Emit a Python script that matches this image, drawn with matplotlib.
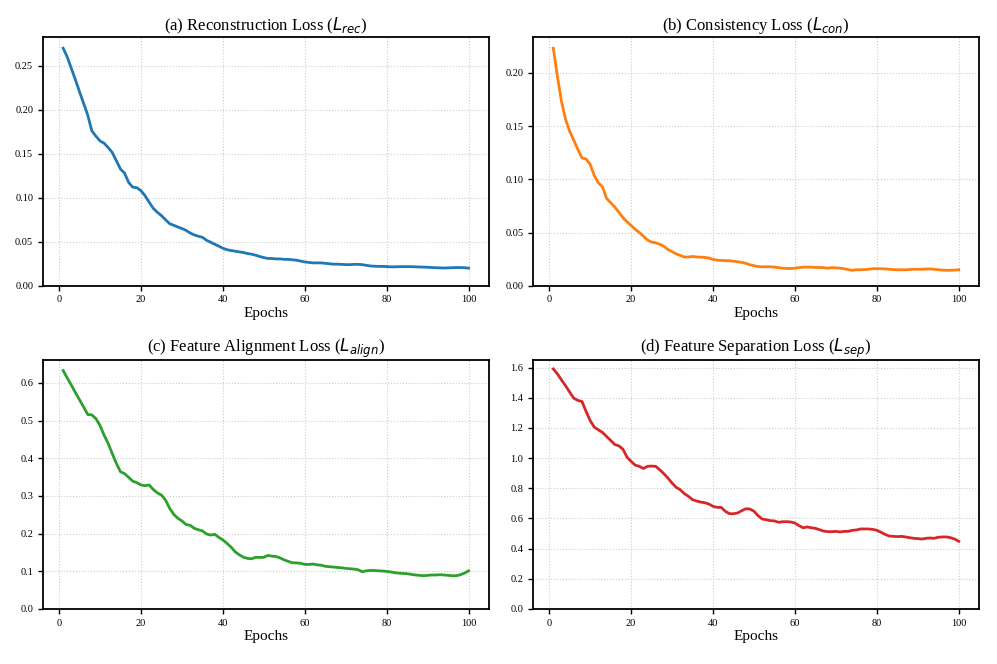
import numpy as np
import matplotlib
matplotlib.use("Agg")
import matplotlib.pyplot as plt

plt.rcParams['font.family'] = ['Liberation Serif', 'DejaVu Serif']
plt.rcParams['mathtext.fontset'] = 'dejavusans'

epochs = np.arange(1, 101)

rec_loss = [
    0.270, 0.260, 0.247, 0.234, 0.2205, 0.2073, 0.194, 0.176, 0.170, 0.1646,
    0.162, 0.157, 0.1514, 0.142, 0.1326, 0.128, 0.1174, 0.112, 0.1114, 0.108,
    0.1023, 0.095, 0.088, 0.0835, 0.0797, 0.075, 0.0706, 0.0687, 0.0668, 0.065,
    0.063, 0.060, 0.0578, 0.0563, 0.0551, 0.0517, 0.0495, 0.0472, 0.045, 0.0427,
    0.041, 0.040, 0.0393, 0.0385, 0.0378, 0.0366, 0.0359, 0.0347, 0.0332, 0.032,
    0.031, 0.031, 0.0305, 0.0305, 0.030, 0.030, 0.0295, 0.029, 0.028, 0.027,
    0.0265, 0.026, 0.026, 0.026, 0.0255, 0.025, 0.0245, 0.0245, 0.0243, 0.024,
    0.024, 0.0243, 0.0243, 0.024, 0.0232, 0.0225, 0.0222, 0.022, 0.022, 0.0218,
    0.0215, 0.0215, 0.0217, 0.0217, 0.0217, 0.0217, 0.0215, 0.0213, 0.0212, 0.021,
    0.0207, 0.0205, 0.0203, 0.0202, 0.0203, 0.0205, 0.0207, 0.0207, 0.0205, 0.020,
]

con_loss = [
    0.223, 0.1966, 0.173, 0.156, 0.145, 0.1366, 0.128, 0.120, 0.119, 0.114,
    0.1034, 0.0966, 0.093, 0.082, 0.078, 0.074, 0.069, 0.064, 0.060, 0.0566,
    0.053, 0.050, 0.0466, 0.043, 0.041, 0.0403, 0.039, 0.037, 0.034, 0.032,
    0.030, 0.0284, 0.027, 0.027, 0.0275, 0.027, 0.0269, 0.0266, 0.026, 0.0247,
    0.024, 0.0238, 0.0235, 0.0235, 0.023, 0.0225, 0.022, 0.021, 0.0197, 0.0188,
    0.018, 0.0178, 0.0178, 0.0178, 0.0175, 0.017, 0.0165, 0.0162, 0.0162, 0.0165,
    0.017, 0.0175, 0.0175, 0.0175, 0.0172, 0.0172, 0.017, 0.0165, 0.017, 0.0168,
    0.0165, 0.016, 0.0152, 0.0145, 0.015, 0.015, 0.0152, 0.0155, 0.016, 0.016,
    0.016, 0.0158, 0.0155, 0.0152, 0.015, 0.015, 0.015, 0.0152, 0.0155, 0.0155,
    0.0155, 0.0157, 0.0158, 0.0155, 0.015, 0.0147, 0.0145, 0.0145, 0.0147, 0.015,
]

align_loss = [
    0.6326, 0.613, 0.594, 0.574, 0.555, 0.536, 0.516, 0.515, 0.505, 0.487,
    0.461, 0.439, 0.412, 0.386, 0.364, 0.359, 0.349, 0.339, 0.335, 0.329,
    0.327, 0.329, 0.317, 0.308, 0.302, 0.289, 0.267, 0.251, 0.2405, 0.2335,
    0.224, 0.222, 0.214, 0.210, 0.207, 0.199, 0.196, 0.198, 0.190, 0.183,
    0.174, 0.164, 0.1515, 0.1436, 0.1374, 0.134, 0.133, 0.137, 0.1366, 0.137,
    0.142, 0.140, 0.139, 0.135, 0.130, 0.126, 0.1225, 0.122, 0.121, 0.118,
    0.118, 0.119, 0.117, 0.116, 0.113, 0.112, 0.111, 0.110, 0.109, 0.1075,
    0.1066, 0.1057, 0.104, 0.0987, 0.101, 0.102, 0.102, 0.101, 0.1005, 0.0996,
    0.098, 0.096, 0.095, 0.094, 0.0934, 0.0916, 0.090, 0.089, 0.088, 0.089,
    0.090, 0.090, 0.0907, 0.090, 0.089, 0.088, 0.088, 0.0907, 0.095, 0.101,
]

sep_loss = [
    1.591, 1.558, 1.518, 1.479, 1.437, 1.397, 1.382, 1.375, 1.309, 1.249,
    1.205, 1.187, 1.170, 1.143, 1.117, 1.090, 1.081, 1.059, 1.006, 0.978,
    0.953, 0.945, 0.931, 0.945, 0.947, 0.945, 0.922, 0.896, 0.867, 0.834,
    0.806, 0.790, 0.764, 0.746, 0.724, 0.715, 0.708, 0.704, 0.695, 0.680,
    0.673, 0.673, 0.647, 0.631, 0.631, 0.636, 0.651, 0.664, 0.662, 0.647,
    0.618, 0.596, 0.591, 0.585, 0.583, 0.574, 0.578, 0.578, 0.576, 0.569,
    0.552, 0.538, 0.543, 0.538, 0.534, 0.525, 0.516, 0.512, 0.512, 0.514,
    0.510, 0.514, 0.514, 0.521, 0.523, 0.530, 0.530, 0.530, 0.527, 0.521,
    0.508, 0.494, 0.483, 0.481, 0.479, 0.481, 0.477, 0.472, 0.468, 0.466,
    0.463, 0.468, 0.470, 0.468, 0.475, 0.477, 0.477, 0.472, 0.463, 0.448,
]

titles = [
    r'(a) Reconstruction Loss ($L_{rec}$)',
    r'(b) Consistency Loss ($L_{con}$)',
    r'(c) Feature Alignment Loss ($L_{align}$)',
    r'(d) Feature Separation Loss ($L_{sep}$)',
]
series = [rec_loss, con_loss, align_loss, sep_loss]
colors = ['#1f77b4', '#ff7f0e', '#2ca02c', '#d62728']

fig, axes = plt.subplots(2, 2, figsize=(9.97, 6.64), dpi=100)
fig.subplots_adjust(left=0.043, right=0.982, top=0.944, bottom=0.083,
                    wspace=0.099, hspace=0.30)

for ax, title, vals, c in zip(axes.flat, titles, series, colors):
    ax.plot(epochs, vals, color=c, linewidth=2)
    ax.set_title(title, fontsize=12, pad=5)
    ax.set_xlabel('Epochs', fontsize=11, labelpad=2)
    ax.set_ylim(bottom=0)
    ax.grid(True, linestyle=':', color='#cccccc', linewidth=0.8)
    ax.tick_params(labelsize=7.5, length=3.5, width=1)
    for s in ax.spines.values():
        s.set_linewidth(1.3)
        s.set_color('black')

plt.savefig('out.png', dpi=100)
